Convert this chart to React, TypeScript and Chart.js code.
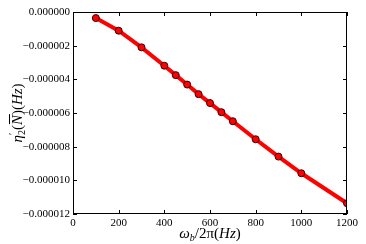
import React, { useEffect, useRef } from "react";
import { Chart, registerables } from "chart.js";

Chart.register(...registerables);

const freqs = [100, 200, 300, 400, 450, 500, 550, 600, 650, 700, 800, 900, 1000, 1200];
const eta = [
  -3.6e-7, -1.11e-6, -2.1e-6, -3.19e-6, -3.75e-6, -4.31e-6, -4.88e-6, -5.41e-6,
  -5.95e-6, -6.49e-6, -7.56e-6, -8.59e-6, -9.58e-6, -1.136e-5,
];
const xTicks = [0, 200, 400, 600, 800, 1000, 1200];
const yTicks = [0, -2e-6, -4e-6, -6e-6, -8e-6, -1e-5, -1.2e-5];

const SERIF = "'Liberation Serif', 'DejaVu Serif', serif";

const framePlugin = {
  id: "frame",
  afterDraw(chart: any) {
    const { ctx, chartArea: a, scales } = chart;
    const xs = scales.x;
    const ys = scales.y;
    ctx.save();
    ctx.strokeStyle = "#000";
    ctx.lineWidth = 1;
    ctx.strokeRect(a.left + 0.5, a.top + 0.5, a.right - a.left - 1, a.bottom - a.top - 1);
    const L = 4;
    ctx.beginPath();
    xTicks.forEach((v) => {
      const px = Math.round(xs.getPixelForValue(v)) + 0.5;
      ctx.moveTo(px, a.bottom);
      ctx.lineTo(px, a.bottom - L);
      ctx.moveTo(px, a.top);
      ctx.lineTo(px, a.top + L);
    });
    yTicks.forEach((v) => {
      const py = Math.round(ys.getPixelForValue(v)) + 0.5;
      ctx.moveTo(a.left, py);
      ctx.lineTo(a.left + L, py);
      ctx.moveTo(a.right, py);
      ctx.lineTo(a.right - L, py);
    });
    ctx.stroke();

    ctx.fillStyle = "#000";
    ctx.textBaseline = "alphabetic";
    // x title: ω_b/2π(Hz)
    const cx = (a.left + a.right) / 2;
    const yb = 238;
    const parts: [string, number, number, boolean][] = [
      ["ω", 15, 0, true],
      ["b", 10, 3, true],
      ["/2π(", 15, 0, false],
      ["Hz", 15, 0, true],
      [")", 15, 0, false],
    ];
    let total = 0;
    parts.forEach(([s, sz, , it]) => {
      ctx.font = (it ? "italic " : "") + sz + "px " + SERIF;
      total += ctx.measureText(s).width;
    });
    let x = cx - total / 2;
    parts.forEach(([s, sz, dy, it]) => {
      ctx.font = (it ? "italic " : "") + sz + "px " + SERIF;
      ctx.textAlign = "left";
      ctx.fillText(s, x, yb + dy);
      x += ctx.measureText(s).width;
    });

    // y title: η'_2(N̄)(Hz)
    ctx.save();
    ctx.translate(22, (a.top + a.bottom) / 2);
    ctx.rotate(-Math.PI / 2);
    const yparts: [string, number, number, boolean, boolean][] = [
      ["η", 15, 0, true, true],
      ["\u2032", 10, -6, false, false],
      ["2", 10, 3, false, true],
      ["(", 15, 0, false, true],
      ["N", 15, 0, true, true],
      [")(", 15, 0, false, true],
      ["Hz", 15, 0, true, true],
      [")", 15, 0, false, true],
    ];
    let ytot = 0;
    const yw: number[] = [];
    yparts.forEach(([s, sz, , it, adv]) => {
      ctx.font = (it ? "italic " : "") + sz + "px " + SERIF;
      const w = adv ? ctx.measureText(s).width : 0;
      yw.push(w);
      ytot += w;
    });
    let yx = -ytot / 2;
    yparts.forEach(([s, sz, dy, it], i) => {
      ctx.font = (it ? "italic " : "") + sz + "px " + SERIF;
      ctx.textAlign = "left";
      ctx.fillText(s, yx, dy);
      if (s === "N") {
        const w = ctx.measureText(s).width;
        ctx.fillRect(yx + 1, -13, w, 1);
      }
      yx += yw[i];
    });
    ctx.restore();
    ctx.restore();
  },
};

export default function App() {
  const ref = useRef<HTMLCanvasElement>(null);
  useEffect(() => {
    document.body.style.margin = "0";
    const chart = new Chart(ref.current as HTMLCanvasElement, {
      type: "line",
      data: {
        datasets: [
          {
            data: freqs.map((f, i) => ({ x: f, y: eta[i] })),
            borderColor: "#ff0000",
            borderWidth: 4,
            backgroundColor: "#ff0000",
            pointBackgroundColor: "#ff0000",
            pointBorderColor: "#3a0000",
            pointBorderWidth: 1,
            pointRadius: 3.5,
            tension: 0,
          },
        ],
      },
      options: {
        animation: false,
        responsive: false,
        layout: { padding: { top: 12, right: 19, left: 0, bottom: 0 } },
        plugins: { legend: { display: false }, tooltip: { enabled: false } },
        scales: {
          x: {
            type: "linear",
            min: 0,
            max: 1200,
            afterBuildTicks: (s: any) => {
              s.ticks = xTicks.map((v) => ({ value: v }));
            },
            afterFit: (s: any) => {
              s.height = 30;
            },
            grid: { display: false, drawTicks: false },
            border: { display: false },
            ticks: {
              color: "#000",
              font: { family: SERIF, size: 11 },
              padding: 3,
              maxRotation: 0,
              callback: (v: any) => String(v),
            },
          },
          y: {
            type: "linear",
            min: -1.2e-5,
            max: 0,
            afterBuildTicks: (s: any) => {
              s.ticks = yTicks.map((v) => ({ value: v }));
            },
            afterFit: (s: any) => {
              s.width = 73;
            },
            grid: { display: false, drawTicks: false },
            border: { display: false },
            ticks: {
              color: "#000",
              font: { family: SERIF, size: 11 },
              padding: 3,
              callback: (v: any) => {
                const n = Number(v);
                return (n < -1e-12 ? "\u2212" : "") + Math.abs(n).toFixed(6);
              },
            },
          },
        },
      },
      plugins: [framePlugin],
    });
    return () => chart.destroy();
  }, []);
  return (
    <div style={{ position: "absolute", left: 0, top: 0, width: 366, height: 244, background: "#fff" }}>
      <canvas ref={ref} width={366} height={244} style={{ width: 366, height: 244 }} />
    </div>
  );
}
